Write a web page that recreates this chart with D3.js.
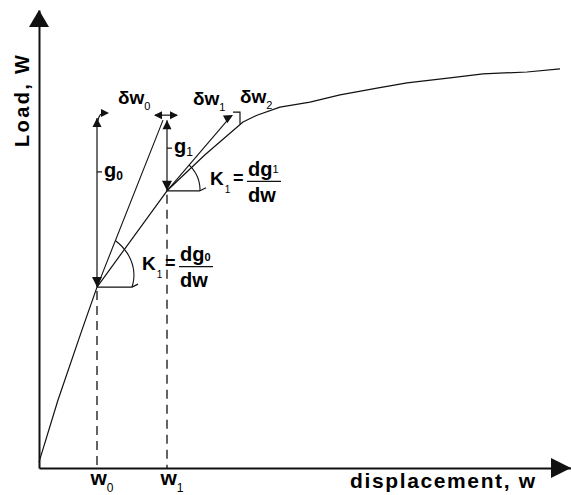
<!DOCTYPE html>
<html><head><meta charset="utf-8">
<script src="https://cdn.jsdelivr.net/npm/d3@7"></script>
<style>
html,body{margin:0;padding:0;background:#fff;}
svg{display:block;}
text{font-family:"Liberation Sans",Arial,sans-serif;fill:#000;}
</style></head><body>
<svg id="c" width="571" height="495"></svg>
<script>
// ---- data (arbitrary units) ----
const displacement = [0, 3.8, 8.6, 11.6, 25.6, 33.2, 40.8, 43.6, 48.2, 54.2, 60.2, 67.6, 73.6, 82.2, 88.8, 97.6, 104.2];
const load         = [1.3, 15.1, 30.7, 40.2, 61.6, 69.6, 76.9, 78.4, 80.2, 81.3, 82.9, 84.4, 85.6, 86.7, 87.6, 88.0, 88.7];
const tickValues = [11.6, 25.6];          // w0, w1
const tickNames  = ["w", "w"];
const tickSubs   = ["0", "1"];
const tangentEndW    = [24.8, 38.4];      // ends of tangent lines drawn from w0, w1
const tangentEndLoad = [77.3, 78.2];
const gTopLoad       = [77.8, 77.3];      // tops of g0, g1 arrows
const gNames = ["g", "g"], gSubs = ["0", "1"];
const deltaNames = ["δw", "δw", "δw"], deltaSubs = ["0", "1", "2"];
const kSubs = ["0", "1"];

// ---- scales ----
const x = d3.scaleLinear().domain([0, 100]).range([39, 539]);
const y = d3.scaleLinear().domain([0, 100]).range([468, 18]);
const xa = d3.scaleLinear().domain([0, x.invert(571)]).range([39, 571]);
const ya = d3.scaleLinear().domain([0, y.invert(10)]).range([468, 10]);

const svg = d3.select("#c");
const INK = "#111";

function arrow(tip, angle, len, half) {
  const bx = tip[0] - len * Math.cos(angle), by = tip[1] - len * Math.sin(angle);
  const px = -Math.sin(angle) * half, py = Math.cos(angle) * half;
  return `M${tip[0]},${tip[1]}L${bx + px},${by + py}L${bx - px},${by - py}Z`;
}

// ---- axes ----
const gx = svg.append("g").attr("transform", `translate(0,${ya(0)})`)
  .call(d3.axisBottom(xa).tickValues(tickValues).tickSize(0).tickSizeOuter(0).tickFormat(""));
gx.select(".domain").attr("stroke", INK).attr("stroke-width", 2);
gx.selectAll(".tick text").attr("y", 17).attr("dy", null).attr("x", -7).attr("fill", "#000")
  .attr("text-anchor", "start").attr("font-size", 21).attr("font-weight", "bold")
  .each(function (d, i) {
    const t = d3.select(this);
    t.append("tspan").text(tickNames[i]);
    t.append("tspan").attr("font-size", 12).attr("font-weight", "normal").attr("dy", 7).text(tickSubs[i]);
  });

const gy = svg.append("g").attr("transform", `translate(${xa(0)},0)`)
  .call(d3.axisLeft(ya).tickValues([]).tickSizeOuter(0));
gy.select(".domain").attr("stroke", INK).attr("stroke-width", 2);

svg.append("path").attr("d", arrow([xa(0), ya.range()[1]], -Math.PI / 2, 17, 10)).attr("fill", INK);
svg.append("path").attr("d", arrow([xa.range()[1], ya(0)], 0, 20, 10)).attr("fill", INK);

svg.append("text").attr("transform", `translate(29,147) rotate(-90)`)
  .attr("text-anchor", "start").attr("font-size", 20).attr("font-weight", "bold")
  .attr("textLength", 92).attr("lengthAdjust", "spacing").text("Load, W");
svg.append("text").attr("x", 350).attr("y", 488)
  .attr("font-size", 21).attr("font-weight", "bold")
  .attr("textLength", 185).attr("lengthAdjust", "spacing").text("displacement, w");

// ---- points on curve ----
const P = tickValues.map(v => {
  const i = displacement.indexOf(v);
  return [x(displacement[i]), y(load[i])];
});

// dashed guides
P.forEach(p => {
  svg.append("line").attr("x1", p[0]).attr("x2", p[0]).attr("y1", p[1] + 4).attr("y2", y(0))
    .attr("stroke", INK).attr("stroke-width", 1.3).attr("stroke-dasharray", "9,6");
});

// curve
const line = d3.line().x(d => x(d[0])).y(d => y(d[1])).curve(d3.curveLinear);
svg.append("path").datum(d3.zip(displacement, load)).attr("d", line)
  .attr("fill", "none").attr("stroke", INK).attr("stroke-width", 1.2).attr("stroke-linejoin", "round");

// tangents
const T = tangentEndW.map((w, i) => [x(w), y(tangentEndLoad[i])]);
P.forEach((p, i) => {
  svg.append("line").attr("x1", p[0]).attr("y1", p[1]).attr("x2", T[i][0]).attr("y2", T[i][1])
    .attr("stroke", INK).attr("stroke-width", 1.1);
});

// g arrows
const G = gTopLoad.map((l, i) => [P[i][0], y(l)]);
P.forEach((p, i) => {
  svg.append("line").attr("x1", p[0]).attr("x2", p[0]).attr("y1", G[i][1]).attr("y2", p[1])
    .attr("stroke", INK).attr("stroke-width", 1.2);
  svg.append("path").attr("d", arrow(p, Math.PI / 2, 10, 5)).attr("fill", INK);
  svg.append("path").attr("d", arrow(G[i], -Math.PI / 2, 9, 4.5)).attr("fill", INK);
  const ly = i === 0 ? G[i][1] + 54 : G[i][1] + 28;
  svg.append("line").attr("x1", p[0]).attr("x2", p[0] + 5).attr("y1", ly).attr("y2", ly)
    .attr("stroke", INK).attr("stroke-width", 1.2);
  const t = svg.append("text").attr("x", p[0] + 7).attr("y", ly + 5)
    .attr("font-size", 20).attr("font-weight", "bold");
  t.append("tspan").text(gNames[i]);
  t.append("tspan").attr("font-size", 12).attr("font-weight", i === 0 ? "bold" : "normal").attr("dy", 3).text(gSubs[i]);
});

// delta-w dimension marks
const dA = svg.append("g").attr("fill", INK).attr("stroke", INK);
dA.append("path").attr("d", `M${G[0][0] + 1},${G[0][1] + 3}Q${G[0][0] + 2},${G[0][1] - 5} ${G[0][0] + 8},${G[0][1] - 5}`)
  .attr("fill", "none").attr("stroke-width", 1.2);
dA.append("path").attr("d", arrow([G[0][0] + 12, G[0][1] - 5], 0, 8, 4)).attr("stroke", "none");
dA.append("line").attr("x1", G[1][0] - 12).attr("x2", G[1][0] + 10).attr("y1", G[1][1] - 5).attr("y2", G[1][1] - 5)
  .attr("stroke-width", 1.2);
dA.append("path").attr("d", arrow([G[1][0] - 13, G[1][1] - 5], Math.PI, 8, 4)).attr("stroke", "none");
dA.append("path").attr("d", arrow([G[1][0] + 11, G[1][1] - 5], 0, 8, 4)).attr("stroke", "none");
dA.append("path").attr("d", arrow([T[1][0] + 2, T[1][1] - 1], -0.5, 9, 4.5)).attr("stroke", "none");
dA.append("path").attr("d", `M${T[1][0] + 2},${T[1][1] - 4}H${T[1][0] + 9}V${T[1][1] + 8}`)
  .attr("fill", "none").attr("stroke-width", 1.2);

const dPos = [[G[0][0] + 21, G[0][1] - 14], [G[1][0] + 26, G[1][1] - 15], [T[1][0] + 9, T[1][1] - 13]];
dPos.forEach((p, i) => {
  const t = svg.append("text").attr("x", p[0]).attr("y", p[1]).attr("font-size", 19).attr("font-weight", "bold");
  t.append("tspan").text(deltaNames[i]);
  t.append("tspan").attr("font-size", 11).attr("font-weight", "normal").attr("dy", 6).text(deltaSubs[i]);
});

// angle arcs + horizontal legs + K labels
const arcR = [[50, 35], [34, 33]];
const kOff = [[45, -17], [43, -6]];
P.forEach((p, i) => {
  const a0 = Math.atan2(T[i][1] - p[1], T[i][0] - p[0]);
  const pts = d3.range(0, 1.0001, 0.1).map(f => {
    const a = a0 * (1 - f), r = arcR[i][0] + (arcR[i][1] - arcR[i][0]) * f;
    return [p[0] + r * Math.cos(a), p[1] + r * Math.sin(a)];
  });
  svg.append("path").attr("d", d3.line().curve(d3.curveBasis)(pts))
    .attr("fill", "none").attr("stroke", INK).attr("stroke-width", 1.1);
  const endX = p[0] + arcR[i][1];
  svg.append("path").attr("d", `M${p[0]},${p[1]}H${endX}M${endX},${p[1]}L${endX + 6},${p[1] - 3}`)
    .attr("fill", "none").attr("stroke", INK).attr("stroke-width", 1.2);

  const kx = p[0] + kOff[i][0], kb = p[1] + kOff[i][1];
  const k = svg.append("text").attr("x", kx).attr("y", kb).attr("font-size", 19).attr("font-weight", "bold");
  k.append("tspan").text("K");
  k.append("tspan").attr("font-size", 10).attr("font-weight", "normal").attr("dx", 1).attr("dy", 8).text("1");
  svg.append("text").attr("x", kx + 23).attr("y", kb - 1).attr("font-size", 18).attr("font-weight", "bold").text("=");
  const num = svg.append("text").attr("x", kx + 38).attr("y", kb - 9).attr("font-size", 20).attr("font-weight", "bold");
  num.append("tspan").text("dg");
  num.append("tspan").attr("font-size", 11).attr("font-weight", i === 0 ? "bold" : "normal").attr("dy", i === 0 ? 0 : -3).text(kSubs[i]);
  svg.append("line").attr("x1", kx + 37).attr("x2", kx + 71).attr("y1", kb - 3.5).attr("y2", kb - 3.5)
    .attr("stroke", INK).attr("stroke-width", 1.3);
  svg.append("text").attr("x", kx + 38).attr("y", kb + 17).attr("font-size", 20).attr("font-weight", "bold").text("dw");
});
</script>
</body></html>
